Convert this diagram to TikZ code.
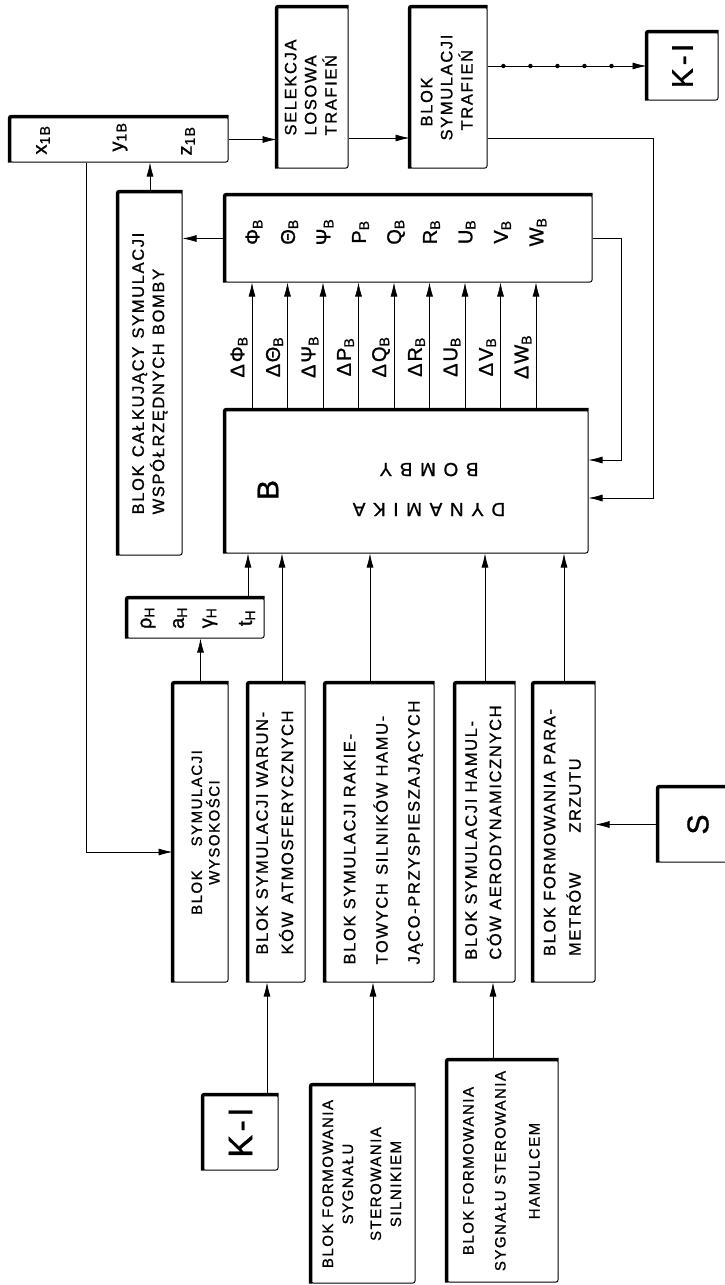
\documentclass[tikz,border=0pt]{standalone}
\usepackage{fontspec}
\setmainfont{Liberation Sans}[LetterSpace=10, FakeBold=1]
\usepackage{graphicx}
\usetikzlibrary{arrows.meta, positioning, decorations.markings}

% tekst pionowy (czytany od dolu)
\newcommand{\pion}[2][l]{\rotatebox{90}{\begin{tabular}{@{}#1@{}}#2\end{tabular}}}

\begin{document}
\begin{tikzpicture}[x=1pt, y=-1pt, line width=0.7pt,
    >={Latex[length=14pt,width=7pt]},
    blok/.style={draw, line width=1pt, rounded corners=2pt, inner sep=0pt,
        font=\fontsize{16.5}{20}\selectfont},
    gruba/.style={line width=3.5pt, rounded corners=2pt},
    etyk/.style={inner sep=0pt, font=\fontsize{20}{22}\selectfont},
    koraliki/.style={postaction={decorate}, decoration={markings,
        mark=between positions 0.1 and 0.8 step 0.17 with {\fill (0,0) circle (2.2pt);}}}]
    \useasboundingbox (0,0) rectangle (725,1285);
    \clip (0,0) rectangle (725,1285);

    % gorny rzad
    \node[blok, minimum width=218, minimum height=45] (wsp) at (119,139.5) {};
    \node[etyk] (x1) at (43,140) {\rotatebox{90}{x\textsubscript{1B}}};
    \node[etyk] (y1) at (120,137) {\rotatebox{90}{y\textsubscript{1B}}};
    \node[etyk] (z1) at (188,141) {\rotatebox{90}{z\textsubscript{1B}}};
    \node[blok, minimum width=71, minimum height=161] (sel) at (312.5,87.5)
        {\pion{SELEKCJA\\LOSOWA\\TRAFIEŃ}};
    \node[blok, minimum width=77, minimum height=161] (traf) at (448.5,87.5)
        {\pion{\hspace{14pt}BLOK\\SYMULACJI\\\hspace{10pt}TRAFIEŃ}};
    \node[blok, minimum width=71, minimum height=68, font=\fontsize{30}{30}\selectfont]
        (ki1) at (682.5,66) {\rotatebox{90}{K-I}};

    % bloki srodkowe
    \node[blok, minimum width=64, minimum height=363] (calk) at (150,373.5)
        {\pion{BLOK\enspace CAŁKUJĄCY\enspace SYMULACJI\\WSPÓŁRZĘDNYCH\enspace BOMBY}};
    \node[blok, minimum width=367, minimum height=87] (stan) at (408.5,238.5) {};
    \node[blok, minimum width=363, minimum height=143] (dyn) at (406.5,481.5) {};
    \node[inner sep=0pt, font=\fontsize{30}{30}\selectfont] (litb) at (268,490) {\rotatebox{90}{B}};
    \node[inner sep=0pt, font=\fontsize{19}{20}\selectfont\addfontfeature{LetterSpace=40}]
        (dynt) at (429,487) {\rotatebox{180}{\begin{tabular}{@{}c@{}}DYNAMIKA\\[20pt]BOMBY\end{tabular}}};

    % zmienne stanu
    \foreach \x/\zm [count=\i] in {252/Φ, 287.5/Θ, 323/Ψ, 358.5/P, 394/Q, 429.5/R, 465/U, 500.5/V, 536/W} {
        \coordinate (k\i) at (\x,300);
        \draw[->] (k\i |- dyn.north) -- (k\i |- stan.south);
        \node[etyk] (ds\i) at (\x-13,357) {\rotatebox{90}{Δ\zm\textsubscript{B}}};
        \node[etyk] (st\i) at (\x+2,232) {\rotatebox{90}{\zm\textsubscript{B}}};
    }

    % warunki atmosferyczne
    \node[blok, minimum width=137, minimum height=40] (atm) at (195.5,618) {};
    \foreach \x/\zm [count=\i] in {148/ρ, 180/a, 210/γ, 247/t}
        \node[etyk] (at\i) at (\x,618) {\rotatebox{90}{\zm\textsubscript{H}}};

    % dolny rzad
    \node[blok, minimum width=55, minimum height=299, font=\fontsize{15}{13.5}\selectfont]
        (wys) at (200.5,832.5) {\hspace*{14pt}\pion[c]{BLOK\hspace{24pt}SYMULACJI\\WYSOKOŚCI}};
    \node[blok, minimum width=57, minimum height=299] (war) at (276.5,832.5)
        {\pion{BLOK SYMULACJI WARUN-\\[5pt]KÓW\enspace ATMOSFERYCZNYCH}};
    \node[blok, minimum width=109, minimum height=299] (rak) at (379.5,832.5)
        {\hspace*{8pt}\pion{BLOK SYMULACJI RAKIE-\\[12pt]TOWYCH\enspace SILNIKÓW HAMU-\\[12pt]JĄCO-PRZYSPIESZAJĄCYCH}};
    \node[blok, minimum width=60, minimum height=299] (ham) at (485,832.5)
        {\pion{BLOK SYMULACJI HAMUL-\\[4pt]CÓW AERODYNAMICZNYCH}};
    \node[blok, minimum width=62, minimum height=299] (par) at (564,832.5)
        {\pion{BLOK FORMOWANIA PARA-\\[5pt]METRÓW\hspace{40pt}ZRZUTU}};
    \node[blok, minimum width=80, minimum height=75, font=\fontsize{30}{30}\selectfont]
        (sbox) at (698,824.5) {\rotatebox{90}{S}};

    \node[blok, minimum width=75, minimum height=75, font=\fontsize{34}{34}\selectfont]
        (ki2) at (240.5,1132.5) {\rotatebox{90}{K-I}};
    \node[blok, minimum width=104, minimum height=198, font=\fontsize{15}{20}\selectfont]
        (fsil) at (363,1184)
        {\pion[c]{BLOK FORMOWANIA\\SYGNAŁU\\[8pt]STEROWANIA\\SILNIKIEM}};
    \node[blok, minimum width=111, minimum height=222, font=\fontsize{15}{20}\selectfont]
        (fham) at (502.5,1171)
        {\pion[c]{BLOK FORMOWANIA\\[12pt]SYGNAŁU STEROWANIA\\[14pt]HAMULCEM}};

    % grube krawedzie
    \foreach \n in {wsp,sel,traf,ki1,calk,stan,dyn,atm,wys,war,rak,ham,par,sbox,ki2,fsil,fham}
        \draw[gruba] (\n.south west) -- (\n.north west) -- (\n.north east);

    % punkty pomocnicze
    \coordinate (r1) at (0,138);
    \coordinate (p1) at (621,460);
    \coordinate (p2) at (653,498);
    \coordinate (p3) at (86,852);
    \coordinate (c1) at (248,0);
    \coordinate (c2) at (282,0);
    \coordinate (c3) at (370,0);
    \coordinate (c4) at (267,0);
    \coordinate (c5) at (373,0);
    \coordinate (c6) at (493,0);

    % polaczenia
    \draw[->] (wsp.east) -- (wsp.east -| sel.west);
    \draw[->] (sel.east |- r1) -- (traf.west |- r1);
    \draw[->, koraliki] (traf.east |- ki1) -- (ki1.west);
    \draw[->] (traf.east |- r1) -| (p2) -- (p2 -| dyn.east);
    \draw[->] (stan.east) -| (p1) -- (p1 -| dyn.east);
    \draw[->] (stan.west) -- (stan.west -| calk.east);
    \draw[->] (calk.north) -- (calk.north |- wsp.south);
    \draw[->] (p3 |- wsp.south) -- (p3) -- (p3 -| wys.west);
    \draw[->] (wys.north) -- (wys.north |- atm.south);
    \draw[->] (c1 |- atm.north) -- (c1 |- dyn.south);
    \draw[->] (c2 |- war.north) -- (c2 |- dyn.south);
    \draw[->] (c3 |- rak.north) -- (c3 |- dyn.south);
    \draw[->] (ham.north) -- (ham.north |- dyn.south);
    \draw[->] (par.north) -- (par.north |- dyn.south);
    \draw[->] (sbox.west) -- (sbox.west -| par.east);
    \draw[->] (c4 |- ki2.north) -- (c4 |- war.south);
    \draw[->] (c5 |- fsil.north) -- (c5 |- rak.south);
    \draw[->] (c6 |- fham.north) -- (c6 |- ham.south);
\end{tikzpicture}
\end{document}
